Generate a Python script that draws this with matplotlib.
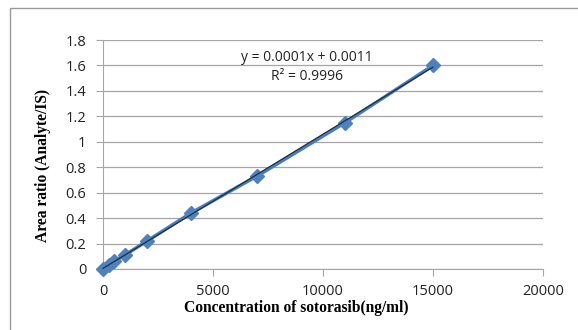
import numpy as np
import matplotlib.pyplot as plt
from matplotlib.patches import Rectangle

# calibration data
conc = [0, 250, 500, 1000, 2000, 4000, 7000, 11000, 15000]
ratio = [0.002, 0.03, 0.06, 0.11, 0.22, 0.44, 0.73, 1.15, 1.6]
eq_text = "y = 0.0001x + 0.0011"
r2_text = "R² = 0.9996"

fig = plt.figure(figsize=(5.78, 3.30), dpi=100)
ax = fig.add_axes([103 / 578, 1 - 269 / 330, 440 / 578, 229 / 330])

# outer chart frame
fig.patches.append(Rectangle((10 / 578, -0.1), 1.2, 1 - 8 / 330 + 0.1,
                             transform=fig.transFigure, fill=False,
                             edgecolor='#9a9a9a', linewidth=1.0))

ax.plot(conc, ratio, color='#4A7EBB', linewidth=2.5, marker='D',
        markersize=7, markerfacecolor='#4F81BD', markeredgecolor='#4F81BD',
        zorder=3, clip_on=False)

# linear trendline
slope, icpt = np.polyfit(conc, ratio, 1)
xs = np.array([conc[0], conc[-1]])
ax.plot(xs, slope * xs + icpt, color='#1f2f3f', linewidth=0.9, zorder=4, clip_on=False)

ax.set_xlim(0, 20000)
ax.set_ylim(0, 1.8)
ax.set_xticks(np.arange(0, 20001, 5000))
ax.set_yticks(np.arange(0, 1.81, 0.2))
ax.set_yticklabels(['0', '0.2', '0.4', '0.6', '0.8', '1', '1.2', '1.4', '1.6', '1.8'])
ax.grid(axis='y', color='#a6a6a6', linewidth=0.9)
ax.set_axisbelow(True)
for s in ['top', 'right']:
    ax.spines[s].set_visible(False)
for s in ['left', 'bottom']:
    ax.spines[s].set_color('#a6a6a6')
ax.tick_params(axis='both', direction='out', length=5, color='#a6a6a6',
               labelsize=10.5, labelcolor='#222222')
ax.tick_params(axis='y', pad=7)
ax.tick_params(axis='x', pad=6)
for lab in ax.get_xticklabels() + ax.get_yticklabels():
    lab.set_family('Open Sans')

ax.set_xlabel('Concentration of sotorasib(ng/ml)', family='Liberation Serif',
              fontweight='bold', fontsize=11.2, labelpad=1)
ax.xaxis.set_label_coords(0.44, -0.135)
ax.set_ylabel('Area ratio (Analyte/IS)', family='Liberation Serif',
              fontweight='bold', fontsize=11.2)
ax.yaxis.set_label_coords(-0.118, 0.45)

ax.text(9270, 1.66, eq_text, ha='center', va='center', family='Open Sans', fontsize=10, color='#222222')
ax.text(9270, 1.515, r2_text, ha='center', va='center', family='Open Sans', fontsize=10, color='#222222')

fig.savefig('out.png', dpi=100)
